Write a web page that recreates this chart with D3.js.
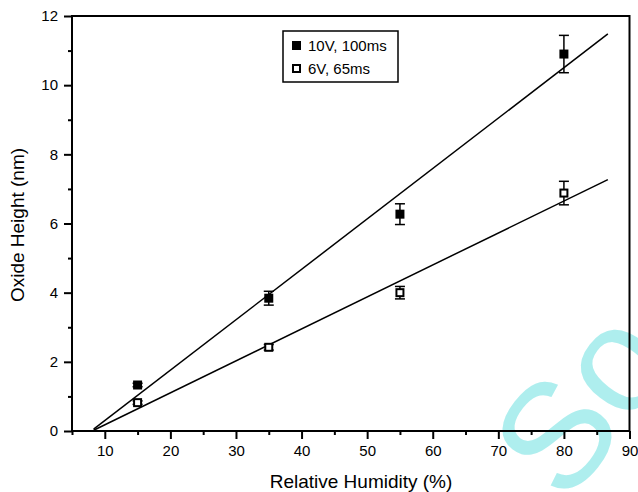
<!DOCTYPE html>
<html>
<head>
<meta charset="utf-8">
<script src="https://cdn.jsdelivr.net/npm/d3@7"></script>
<style>
  html, body { margin: 0; padding: 0; background: #fff; }
  svg { display: block; font-family: "Liberation Sans", Arial, sans-serif; }
</style>
</head>
<body>
<svg id="chart" width="638" height="492"></svg>
<script>
// Relative humidity (%) at which oxide height was measured
const humidity = [15, 35, 55, 80];

// Oxide height (nm) and error for each pulse condition
const series10V = [1.33, 3.84, 6.27, 10.9];
const err10V = [0.05, 0.2, 0.3, 0.54];
const series6V = [0.82, 2.42, 4.0, 6.88];
const err6V = [0.05, 0.08, 0.18, 0.34];

const seriesNames = ["10V, 100ms", "6V, 65ms"];

// Span over which the fitted lines are drawn
const fitSpan = [8.3, 86.7];

const xTicks = [10, 20, 30, 40, 50, 60, 70, 80, 90];
const yTicks = [0, 2, 4, 6, 8, 10, 12];

(function () {
  const svg = d3.select("#chart");
  const pl = 72, pr = 629.5, pt = 16, pb = 431;
  const FONT = "'Liberation Sans', Arial, sans-serif";

  const x = d3.scaleLinear().domain([5, 90]).range([pl, pr]);
  const y = d3.scaleLinear().domain([0, 12]).range([pb, pt]);

  // Faint cyan monogram in the lower-right corner
  svg.append("text")
    .attr("transform", "translate(566,506) rotate(-52)")
    .attr("font-size", 150)
    .attr("font-family", FONT)
    .attr("fill", "#aeeeee")
    .text("So");

  // Frame
  svg.append("rect")
    .attr("x", pl).attr("y", pt)
    .attr("width", pr - pl).attr("height", pb - pt)
    .attr("fill", "none").attr("stroke", "#000").attr("stroke-width", 2);

  // X axis: majors every 10 with labels, minors every 5
  const gx = svg.append("g").attr("transform", `translate(0,${pb})`)
    .call(d3.axisBottom(x).tickValues(xTicks).tickSize(8).tickPadding(6).tickFormat(d3.format("d")));
  gx.select(".domain").remove();
  gx.selectAll(".tick line").attr("stroke-width", 2);
  gx.selectAll(".tick text").attr("font-size", 15).attr("fill", "#000").attr("font-family", FONT);
  const gxm = svg.append("g").attr("transform", `translate(0,${pb})`)
    .call(d3.axisBottom(x).tickValues(d3.range(5, 90, 10)).tickSize(4).tickFormat(""));
  gxm.select(".domain").remove();
  gxm.selectAll(".tick line").attr("stroke-width", 2);

  // Y axis: majors every 2 with labels, minors every 1
  const gy = svg.append("g").attr("transform", `translate(${pl},0)`)
    .call(d3.axisLeft(y).tickValues(yTicks).tickSize(8).tickPadding(6).tickFormat(d3.format("d")));
  gy.select(".domain").remove();
  gy.selectAll(".tick line").attr("stroke-width", 2);
  gy.selectAll(".tick text").attr("font-size", 15).attr("fill", "#000").attr("font-family", FONT);
  const gym = svg.append("g").attr("transform", `translate(${pl},0)`)
    .call(d3.axisLeft(y).tickValues(d3.range(1, 12, 2)).tickSize(4).tickFormat(""));
  gym.select(".domain").remove();
  gym.selectAll(".tick line").attr("stroke-width", 2);

  // Axis titles
  svg.append("text")
    .attr("x", 361).attr("y", 488)
    .attr("text-anchor", "middle").attr("font-size", 19).attr("fill", "#000")
    .text("Relative Humidity (%)");
  svg.append("text")
    .attr("transform", `translate(24,225) rotate(-90)`)
    .attr("text-anchor", "middle").attr("font-size", 19).attr("fill", "#000")
    .text("Oxide Height (nm)");

  // Least-squares fit through each series
  function fit(xs, ys) {
    const mx = d3.mean(xs), my = d3.mean(ys);
    const sxy = d3.sum(xs, (v, i) => (v - mx) * (ys[i] - my));
    const sxx = d3.sum(xs, v => (v - mx) * (v - mx));
    const m = sxy / sxx;
    return { m, b: my - m * mx };
  }

  const plot = svg.append("g");
  [series10V, series6V].forEach(vals => {
    const f = fit(humidity, vals);
    plot.append("line")
      .attr("x1", x(fitSpan[0])).attr("y1", y(f.m * fitSpan[0] + f.b))
      .attr("x2", x(fitSpan[1])).attr("y2", y(f.m * fitSpan[1] + f.b))
      .attr("stroke", "#000").attr("stroke-width", 1.5);
  });

  // Error bars
  function errorBars(vals, errs) {
    const g = plot.append("g").attr("stroke", "#000").attr("stroke-width", 1.5);
    humidity.forEach((h, i) => {
      const cx = x(h), y0 = y(vals[i] - errs[i]), y1 = y(vals[i] + errs[i]);
      g.append("line").attr("x1", cx).attr("x2", cx).attr("y1", y0).attr("y2", y1);
      g.append("line").attr("x1", cx - 5).attr("x2", cx + 5).attr("y1", y0).attr("y2", y0);
      g.append("line").attr("x1", cx - 5).attr("x2", cx + 5).attr("y1", y1).attr("y2", y1);
    });
  }
  errorBars(series10V, err10V);
  errorBars(series6V, err6V);

  // Markers: filled squares for 10V, open squares for 6V
  plot.selectAll(".m10").data(series10V).enter().append("rect")
    .attr("x", (d, i) => x(humidity[i]) - 4.5).attr("y", d => y(d) - 4.5)
    .attr("width", 9).attr("height", 9).attr("fill", "#000");
  plot.selectAll(".m6").data(series6V).enter().append("rect")
    .attr("x", (d, i) => x(humidity[i]) - 3.5).attr("y", d => y(d) - 3.5)
    .attr("width", 7).attr("height", 7).attr("fill", "#fff")
    .attr("stroke", "#000").attr("stroke-width", 2);

  // Legend
  const lg = svg.append("g");
  lg.append("rect").attr("x", 283).attr("y", 31).attr("width", 115).attr("height", 51)
    .attr("fill", "#fff").attr("stroke", "#000").attr("stroke-width", 1.5);
  lg.append("rect").attr("x", 292).attr("y", 41).attr("width", 9).attr("height", 9).attr("fill", "#000");
  lg.append("rect").attr("x", 293).attr("y", 65).attr("width", 7).attr("height", 7)
    .attr("fill", "#fff").attr("stroke", "#000").attr("stroke-width", 2);
  lg.selectAll(".lt").data(seriesNames).enter().append("text")
    .attr("x", 308).attr("y", (d, i) => 51 + i * 23)
    .attr("font-size", 15).attr("fill", "#000").text(d => d);
})();
</script>
</body>
</html>
